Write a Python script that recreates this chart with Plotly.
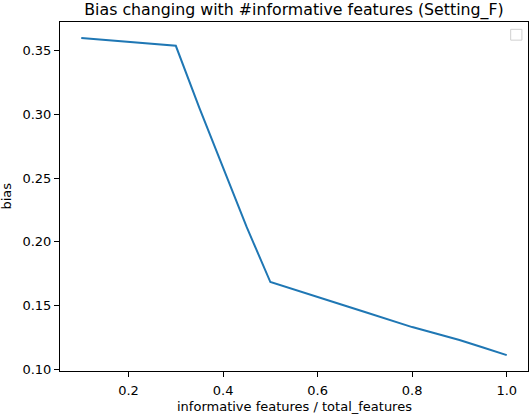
import plotly.graph_objects as go

ratio = [0.1, 0.2, 0.3, 0.35, 0.4, 0.45, 0.5, 0.55, 0.6, 0.65, 0.7, 0.75, 0.8, 0.85, 0.9, 0.95, 1.0]
bias = [0.3602, 0.3570, 0.3540, 0.3050, 0.2585, 0.2115, 0.1684, 0.1627, 0.1567, 0.1508, 0.1448,
        0.1390, 0.1330, 0.1280, 0.1229, 0.1170, 0.1110]

x_ticks = [0.2, 0.4, 0.6, 0.8, 1.0]
y_ticks = [0.10, 0.15, 0.20, 0.25, 0.30, 0.35]

FONT = "DejaVu Sans"

fig = go.Figure()
fig.add_trace(go.Scatter(x=ratio, y=bias, mode="lines",
                         line=dict(color="#1f77b4", width=2), showlegend=False))

axis_common = dict(showline=True, linecolor="black", linewidth=1, mirror=True,
                   ticks="outside", ticklen=5, tickwidth=1, tickcolor="black",
                   showgrid=False, zeroline=False,
                   tickfont=dict(family=FONT, size=13, color="black"))

fig.update_layout(
    width=530, height=414,
    margin=dict(l=60, r=2, t=22, b=43),
    paper_bgcolor="white", plot_bgcolor="white",
    font=dict(family=FONT, size=13, color="black"),
    title=dict(text="Bias changing with #informative features (Setting_F)",
               x=0.5, xref="paper", xanchor="center",
               y=1, yref="paper", yanchor="bottom", pad=dict(b=7),
               font=dict(family=FONT, size=15.8, color="black")),
    xaxis=dict(range=[0.055, 1.045], tickvals=x_ticks, tickformat=".1f",
               ticklabelstandoff=2, **axis_common),
    yaxis=dict(range=[0.0985, 0.3727], tickvals=y_ticks, tickformat=".2f",
               **axis_common),
    annotations=[
        dict(text="informative features / total_features", xref="paper", yref="paper",
             x=0.5, y=0, xanchor="center", yanchor="middle", yshift=-35,
             showarrow=False, font=dict(family=FONT, size=13, color="black")),
        dict(text="bias", xref="paper", yref="paper", textangle=-90,
             x=0, y=0.5, xanchor="center", yanchor="middle", xshift=-54,
             showarrow=False, font=dict(family=FONT, size=13, color="black")),
    ],
    shapes=[dict(type="rect", xref="paper", yref="paper",
                 x0=0.963, x1=0.987, y0=0.948, y1=0.979,
                 line=dict(color="#d0d0d0", width=1), fillcolor="white")],
)

fig.write_html("out.html", config={"displayModeBar": False},
               post_script="document.body.style.margin='0';document.body.style.overflow='hidden';")
